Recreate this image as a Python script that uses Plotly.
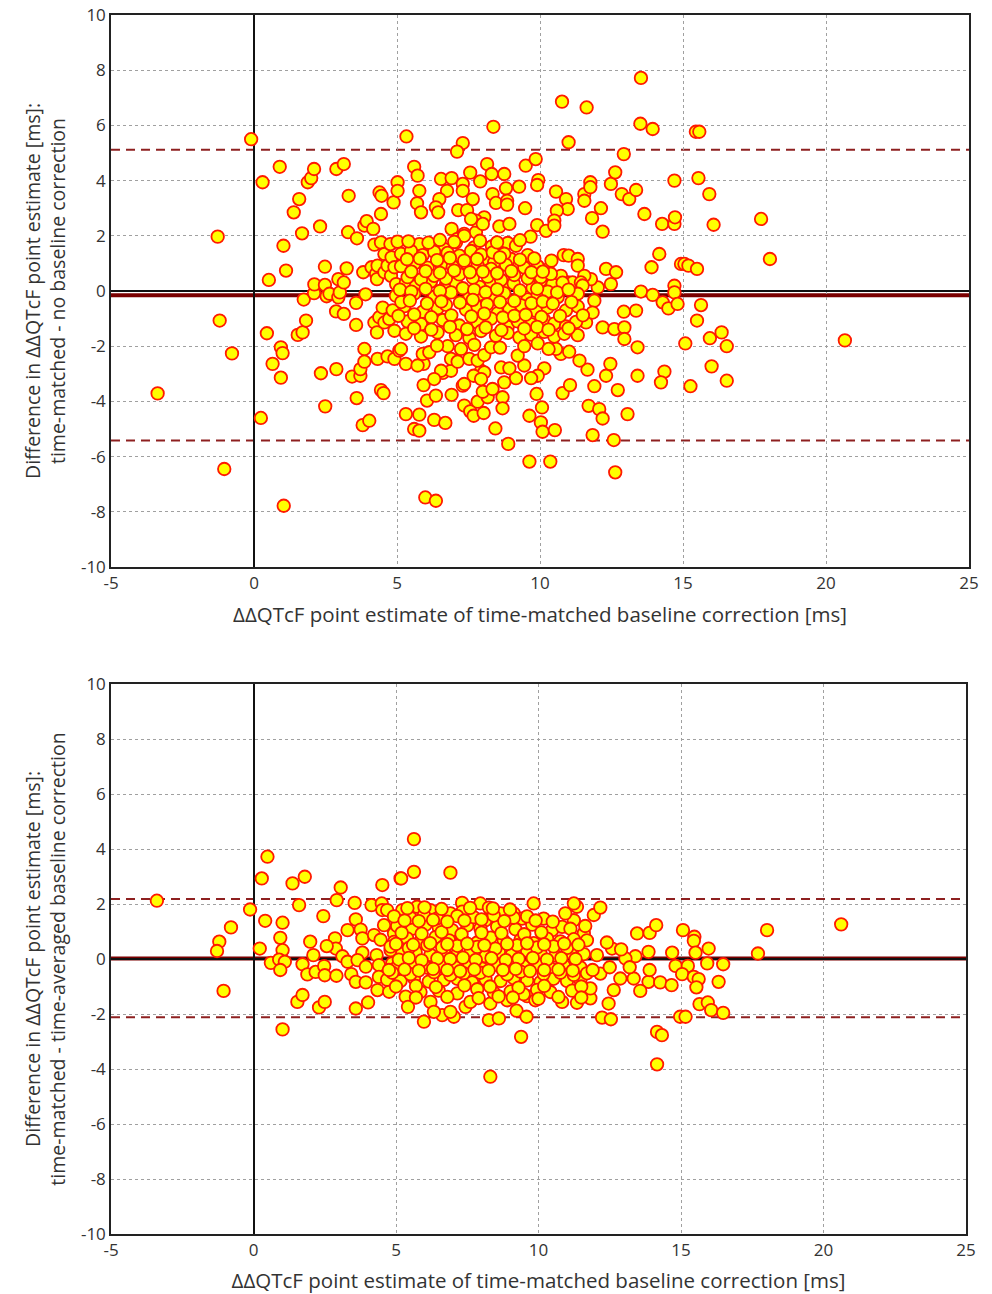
import plotly.graph_objects as go

# ---------------- data (x = ΔΔQTcF time-matched, y = difference) ----------------
top_left = [(-3.37,-3.71),(-1.27,1.97),(-1.2,-1.07),(-1.04,-6.45),(-0.77,-2.26),(-0.1,5.5),(0.24,-4.6),
    (0.3,3.94),(0.45,-1.53),(0.52,0.4),(0.65,-2.64),(0.9,4.5),(0.94,-2.04),(1.0,-2.25),(0.94,-3.14),
    (1.03,1.64),(1.04,-7.78),(1.12,0.74),(1.39,2.85),(1.53,-1.59),(1.58,3.33),(1.68,2.09),(1.7,-1.5),
    (1.74,-0.31),(1.82,-1.07),(1.88,3.94),(2.0,4.09),(2.1,4.42),(2.1,-0.08),(2.11,0.24),(2.31,2.34),
    (2.34,-2.98),(2.48,0.88),(2.48,0.22),(2.49,-4.18),(2.54,-0.19),(2.64,-0.1),(2.87,-0.74),(2.88,4.42),
    (2.88,-2.83),(2.95,0.43),(2.95,-0.23),(3.0,-0.05),(3.14,4.6),(3.14,0.31),(3.14,-0.83),(3.24,0.82),
    (3.29,2.13),(3.31,3.45),(3.43,-3.1),(3.57,-0.43),(3.57,-1.23),(3.59,-3.88),(3.6,1.91),(3.72,-3.07),
    (3.72,-2.83),(3.8,-4.86),(3.82,0.68),(3.86,2.37),(3.86,-2.56),(3.86,-2.1),(3.9,-0.12),(3.94,2.53),
    (4.03,-4.7),(4.11,0.86),(4.17,2.25),(4.21,1.68),(4.21,-1.14),(4.27,0.62),(4.3,0.43),(4.3,-1.5),
    (4.32,0.92),(4.32,-2.46),(4.38,-0.95),(4.39,3.57),(4.44,2.79),(4.44,-3.59),(4.44,1.76),(4.46,3.45),
    (4.53,-3.7),(4.56,1.34),(4.56,0.68),(4.56,-1.14),(4.67,0.92),(4.67,-2.37),(4.73,-1.01),(4.77,1.7),
    (4.79,0.55),(4.81,1.22),(4.88,3.21),(4.91,0.86),(4.91,-1.44),(4.91,-2.46),(4.97,0.25),(5.02,3.94),
    (5.02,3.63),(5.02,1.79),(5.08,-2.16)]

top_upper = [(5.33,5.6),(5.6,4.5),(5.72,4.18),(5.78,3.63),(5.7,3.18),(5.84,2.85),(6.54,4.06),(6.91,4.09),
    (6.75,3.63),(7.3,3.88),(7.3,3.63),(7.56,4.29),(7.91,3.97),(8.15,4.6),(8.31,4.24),(8.75,4.24),(9.5,4.54),
    (9.85,4.78),(9.94,4.02),(9.9,3.84),(9.27,3.78),(8.81,3.72),(6.48,3.33),(6.36,3.03),(6.44,2.85),
    (7.14,2.93),(7.45,2.93),(7.65,3.33),(8.34,3.51),(8.46,3.19),(8.85,3.27),(8.85,3.13),(9.48,3.0),
    (10.56,3.6),(10.91,3.33),(10.97,2.97),(10.59,2.91),(10.5,2.55),(11.55,3.51),(11.55,3.27),(11.76,3.94),
    (11.76,3.76),(12.13,3.0),(11.82,2.64),(12.19,2.15),(12.48,3.88),(12.63,4.3),(12.86,3.51),(13.12,3.33),
    (13.36,3.66),(13.65,2.79),(14.27,2.43),(14.7,2.43),(14.7,4.0),(6.91,2.25),(7.1,1.88),(7.35,2.07),
    (7.76,2.13),(8.05,2.67),(7.76,2.55),(8.0,2.43),(7.59,2.61),(8.58,2.34),(8.93,2.43),(9.67,1.97),
    (9.9,2.39),(10.21,2.18),(10.5,2.37),(8.32,1.62),(8.87,1.74),(9.16,1.64),(8.99,1.16),(9.28,0.92),
    (5.78,1.7),(6.25,1.58),(6.66,1.52),(7.06,1.76),(7.35,2.0),(7.7,1.58),(8.05,1.16),(8.4,1.04),
    (10.83,1.3),(11.0,1.28),(11.32,1.16),(11.32,0.92),(14.17,1.34),(13.9,0.86),(14.93,0.98),(12.31,0.8),
    (12.66,0.68),(12.48,0.25),(12.02,0.13),(11.78,0.43),(11.55,0.55),(10.97,0.31),(10.73,0.55),
    (11.14,0.31),(11.43,0.31),(13.53,-0.02),(13.94,-0.14),(14.7,0.19),(14.7,-0.05)]

top_high = [(13.53,7.72),(10.77,6.86),(11.63,6.65),(8.37,5.95),(13.51,6.06),(13.94,5.87),(7.3,5.36),
    (7.1,5.05),(11.0,5.39),(12.93,4.96),(15.45,5.77),(15.57,5.77),(15.54,4.09),(15.92,3.51),(14.72,2.67),
    (16.07,2.4),(17.73,2.61),(18.04,1.16),(15.05,0.98),(15.19,0.92),(15.49,0.8)]

top_right_low = [(14.29,-0.41),(14.49,-0.63),(14.81,-0.47),(15.63,-0.51),(15.49,-1.07),(15.08,-1.9),
    (15.94,-1.71),(16.35,-1.5),(16.53,-2.0),(20.66,-1.79),(14.35,-2.92),(14.23,-3.31),(16.0,-2.73),
    (15.26,-3.45),(16.53,-3.25)]

top_lower = [(5.99,-7.48),(6.36,-7.6),(9.63,-6.18),(10.36,-6.18),(12.63,-6.57),(8.89,-5.54),(11.84,-5.22),
    (12.58,-5.4),(5.6,-5.0),(5.78,-5.06),(5.31,-4.46),(5.78,-4.48),(6.3,-4.67),(6.69,-4.78),(8.44,-4.98),
    (9.63,-4.52),(10.03,-4.76),(10.09,-5.1),(10.52,-5.04),(10.07,-4.22),(11.7,-4.16),(12.07,-4.28),
    (12.19,-4.62),(13.06,-4.46),(6.05,-3.97),(6.36,-3.79),(6.91,-3.76),(7.35,-4.15),(7.56,-4.36),
    (7.68,-4.52),(8.03,-4.42),(7.82,-4.01),(8.17,-3.85),(8.69,-3.85),(8.69,-4.25),(9.88,-3.73),(5.93,-3.41),
    (6.6,-2.97),(7.3,-3.43),(8.0,-3.65),(8.34,-3.55),(10.79,-3.7),(11.05,-3.41),(11.9,-3.45),(12.72,-3.59),
    (13.41,-3.07),(12.31,-3.07),(12.46,-2.64),(11.66,-2.85),(11.38,-2.52),(10.73,-2.28),(11.02,-2.2),
    (10.56,-2.1),(10.15,-2.8),(9.92,-3.07),(9.69,-3.16),(9.45,-2.7),(9.22,-2.34),(9.16,-3.16),(8.75,-3.31),
    (8.64,-2.77),(8.93,-2.8),(7.94,-2.89),(8.05,-2.95),(7.68,-3.07),(7.94,-3.19),(7.35,-3.37),(7.06,-2.52),
    (6.89,-2.89),(6.54,-2.89),(6.3,-3.19),(5.93,-2.64),(5.14,-2.1),(5.31,-2.64),(5.72,-2.7),(5.9,-2.28),
    (6.13,-2.22),(6.89,-2.46),(7.12,-2.56),(7.53,-2.46),(7.82,-2.52),(8.05,-2.32),(8.29,-2.04),(11.61,-1.14),
    (12.19,-1.32),(12.6,-1.38),(12.95,-1.32),(12.95,-1.74),(13.41,-2.04),(13.36,-0.71),(12.93,-0.75)]

top_dense = [(5.31,0.3),(5.66,0.18),(6.19,0.35),(6.71,0.22),(7.06,0.28),(7.88,0.15),(8.29,0.33),(8.7,0.2),
    (9.08,0.27),(9.74,0.12),(10.03,0.38),(10.44,0.24),(10.79,0.3),(11.49,0.2),
    (4.96,-0.17),(5.6,-0.1),(6.3,-0.22),(6.89,-0.05),(7.53,-0.25),(7.88,-0.12),(8.4,-0.2),(8.75,-0.08),
    (9.57,-0.3),(9.92,-0.15),(10.27,-0.02),(10.62,-0.22),(11.32,-0.1),(11.9,-0.35),
    (4.5,-0.6),(4.85,-0.7),(5.26,-0.55),(5.9,-0.75),(6.42,-0.62),(6.71,-0.5),(7.41,-0.68),(7.82,-0.58),
    (8.52,-0.8),(8.93,-0.65),(9.34,-0.52),(9.86,-0.72),(10.27,-0.6),(10.91,-0.7),(11.32,-0.56),(11.84,-0.78),
    (5.37,-1.1),(5.84,-1.2),(6.6,-1.05),(7.18,-1.25),(7.82,-1.15),(8.29,-1.0),(8.87,-1.3),(9.22,-1.1),
    (9.69,-1.2),(10.15,-1.05),(10.5,-1.18),(10.91,-1.28),(11.26,-1.12),
    (5.31,-1.55),(5.84,-1.65),(6.42,-1.5),(7.06,-1.6),(7.53,-1.7),(7.94,-1.45),(8.46,-1.62),(8.87,-1.52),
    (9.28,-1.68),(9.69,-1.58),(10.15,-1.48),(10.5,-1.65),(10.85,-1.55),(11.32,-1.6),
    (6.77,-2.0),(7.24,-2.1),(7.7,-1.95),(8.6,-2.05),(9.45,-2.0),(9.92,-1.9),(10.3,-2.1),(6.4,-1.98),
    (5.14,1.35),(5.49,1.45),(5.9,1.3),(6.3,1.42),(6.77,1.38),(7.18,1.28),(7.59,1.45),(7.94,1.32),
    (8.35,1.4),(8.75,1.35),(9.57,1.3),
    (5.14,0.9),(5.61,1.0),(6.07,0.85),(6.54,0.95),(6.95,0.88),(7.41,1.02),(7.82,0.92),(8.29,0.8),
    (8.81,0.95),(9.45,0.85),(9.92,0.9),(10.27,0.78),
    (5.37,0.5),(5.84,0.42),(6.3,0.55),(6.71,0.45),(7.18,0.6),(7.65,0.48),(8.17,0.52),(8.64,0.4),
    (9.1,0.58),(9.57,0.46),(10.03,0.5),(10.38,0.62)]

top_dense_2 = [(5.1,0.05),(5.5,-0.02),(6.0,0.08),(6.5,0.0),(7.3,0.1),(7.7,0.04),(8.1,-0.04),(8.5,0.06),
    (9.3,0.02),(9.9,0.08),(10.6,-0.05),(11.0,0.05),
    (5.15,-0.4),(5.45,-0.35),(6.05,-0.45),(6.55,-0.38),(7.2,-0.42),(7.65,-0.32),(8.15,-0.48),(8.6,-0.4),
    (9.1,-0.36),(9.7,-0.44),(10.1,-0.38),(10.45,-0.46),(11.1,-0.4),
    (5.05,-0.9),(5.6,-0.85),(6.2,-0.95),(6.9,-0.88),(7.6,-0.92),(8.05,-0.82),(8.7,-0.96),(9.1,-0.9),
    (9.5,-0.86),(10.05,-0.94),(10.7,-0.9),(11.5,-0.88),
    (5.6,-1.35),(6.2,-1.4),(6.85,-1.3),(7.45,-1.38),(8.1,-1.32),(8.65,-1.42),(9.45,-1.36),(9.9,-1.3),
    (10.3,-1.4),(11.0,-1.35),
    (5.5,0.7),(6.0,0.72),(6.5,0.66),(7.0,0.74),(7.55,0.68),(8.0,0.7),(8.5,0.64),(9.0,0.72),(9.7,0.68),
    (10.1,0.7),
    (5.35,1.15),(5.8,1.18),(6.4,1.12),(6.85,1.2),(7.35,1.1),(7.8,1.16),(8.6,1.22),(9.3,1.14),(9.8,1.18),
    (10.4,1.1),
    (5.4,1.8),(6.1,1.75),(6.5,1.85),(7.0,1.78),(7.9,1.82),(8.5,1.76),(9.3,1.84)]

bot_left = [(0.49,3.72),(0.29,2.93),(1.37,2.75),(1.8,2.99),(3.06,2.6),(4.52,2.69),(-3.39,2.12),(-0.12,1.8),
    (1.6,1.96),(2.92,2.14),(3.55,2.04),(4.14,1.96),(4.5,2.02),(4.52,1.78),(-0.79,1.15),(0.41,1.39),
    (1.02,1.32),(2.45,1.56),(3.59,1.44),(-1.2,0.63),(-1.28,0.29),(0.94,0.77),(1.02,0.32),(0.22,0.38),
    (1.99,0.63),(2.86,0.75),(2.89,0.38),(2.57,0.47),(3.3,1.05),(3.76,1.07),(3.82,0.75),(4.23,0.87),
    (4.58,1.23),(4.93,0.93),(3.82,0.23),(4.32,0.14),(4.81,0.32),(4.87,-0.16),(0.61,-0.14),(0.9,-0.02),
    (1.1,-0.1),(0.94,-0.4),(1.72,-0.19),(1.89,-0.56),(2.1,0.14),(2.18,-0.47),(2.48,-0.26),(2.5,-0.59),
    (2.91,-0.61),(3.12,0.1),(3.3,-0.1),(3.43,-0.55),(3.65,-0.04),(3.94,-0.28),(3.59,-0.83),(3.94,-0.85),
    (4.4,-0.22),(4.4,-0.65),(4.35,-1.13),(4.76,-1.19),(5.05,-0.89),(-1.05,-1.16),(1.54,-1.56),(1.72,-1.31),
    (2.3,-1.76),(2.5,-1.56),(3.59,-1.8),(4.02,-1.58),(1.02,-2.56),(5.16,2.93)]

bot_mid = [(5.63,4.36),(5.63,3.17),(5.18,2.93),(6.91,3.14),(8.31,-4.28),(9.39,-2.83),(14.16,-2.65),
    (14.33,-2.77),(14.16,-3.83),(5.98,-2.28),(6.62,-2.04),(7.03,-2.1),(6.91,-1.92),(8.26,-2.22),(8.61,-2.16),
    (9.23,-1.88),(9.58,-2.1),(12.23,-2.13),(12.54,-2.19),(14.97,-2.1),(5.34,-1.37),(5.42,-1.74),(6.21,-1.56),
    (6.33,-1.92),(7.44,-1.74),(7.61,-1.56),(8.31,-1.62),(8.9,-1.5),(9.6,-1.35),(9.89,-1.5),(10.83,-1.56),
    (11.35,-1.59),(11.82,-1.43),(12.46,-1.62),(13.46,0.93),(13.9,0.95),(14.13,1.23),(13.86,0.26),
    (13.4,0.1),(13.05,0.02),(12.58,0.38),(12.05,0.14),(13.34,-0.71),(13.86,-0.83),(14.27,-0.85),
    (13.57,-1.16),(12.87,-0.71),(12.64,-1.13),(12.17,-0.53),(11.82,-1.07),(11.24,1.41),(11.59,0.93),
    (11.94,1.6),(12.17,1.87),(11.35,1.9),(10.94,1.66),(9.83,2.02),(10.18,1.47),(10.48,1.05),(10.83,1.17),
    (11.24,2.02),(7.32,2.04),(7.96,2.02),(8.26,1.87),(8.67,1.66),(9.13,1.66),(9.42,1.47),(4.69,1.78),
    (5.22,1.78),(5.74,1.9),(6.21,1.78),(6.91,1.66),(7.32,1.72),(8.14,1.41),
    (12.4,0.6),(12.9,0.35),(13.2,-0.3),(12.5,-0.3),(13.9,-0.4)]

bot_dense = [(5.04,1.2),(5.57,1.1),(6.04,1.25),(6.5,1.15),(6.97,1.05),(7.5,1.22),(7.96,1.12),(8.55,1.18),
    (9.19,1.08),(9.78,1.25),(11.12,1.1),(11.64,1.2),
    (4.46,0.7),(4.93,0.62),(5.39,0.75),(5.86,0.65),(6.39,0.8),(6.86,0.68),(7.32,0.72),(7.85,0.6),
    (8.32,0.78),(8.78,0.66),(9.37,0.7),(9.83,0.58),(10.3,0.74),(10.77,0.64),(11.24,0.72),(11.7,0.68),
    (5.22,0.2),(5.69,0.25),(6.21,0.15),(6.68,0.28),(7.15,0.18),(7.61,0.22),(8.14,0.1),(8.61,0.26),
    (9.07,0.16),(9.6,0.3),(10.07,0.2),(10.59,0.12),(11.12,0.24),(11.59,0.18),
    (5.04,-0.28),(5.57,-0.2),(6.1,-0.32),(6.56,-0.25),(7.09,-0.3),(7.56,-0.18),(8.02,-0.35),(8.55,-0.22),
    (9.02,-0.3),(9.48,-0.26),(9.95,-0.2),(10.42,-0.34),(10.89,-0.24),(11.47,-0.3),
    (4.69,-0.75),(5.16,-0.8),(5.63,-0.7),(6.15,-0.82),(6.68,-0.76),(7.15,-0.72),(7.67,-0.85),(8.14,-0.74),
    (8.67,-0.8),(9.13,-0.7),(9.6,-0.78),(10.07,-0.84),(10.53,-0.72),(11.0,-0.8),(11.47,-0.76),
    (5.86,-1.2),(6.5,-1.15),(7.15,-1.25),(7.85,-1.1),(8.43,-1.22),(9.02,-1.18),(9.48,-1.28),(9.95,-1.12),
    (10.42,-1.2),(11.18,-1.15),
    (4.93,1.55),(5.51,1.5),(5.98,1.6),(6.45,1.48),(7.15,1.56),(7.73,1.52),(8.43,1.58),(9.13,1.5),(9.6,1.55),
    (4.81,0.45),(5.45,0.4),(6.1,0.5),(6.62,0.42),(7.15,0.48),(7.85,0.44),(8.49,0.38),(9.25,0.5),(9.95,0.42),
    (10.53,0.46),(11.0,0.4),
    (4.87,-0.5),(5.51,-0.55),(6.33,-0.48),(6.91,-0.58),(7.38,-0.52),(7.96,-0.5),(8.9,-0.56),(9.37,-0.46),
    (10.18,-0.54),(10.77,-0.5),(11.24,-0.58),(11.7,-0.52),
    (5.2,0.95),(5.9,0.92),(6.6,0.98),(7.3,0.9),(8.0,0.96),(8.7,0.94),(9.5,0.9),(10.1,0.97),
    (5.0,-1.0),(5.7,-0.98),(6.4,-1.02),(7.4,-0.96),(8.3,-1.0),(9.3,-1.04),(10.2,-0.98),(11.5,-1.0)]

bot_dense_2 = [(5.1,-0.02),(5.45,0.04),(5.9,-0.05),(6.45,0.02),(6.9,0.0),(7.35,0.05),(7.8,-0.03),(8.35,0.03),
    (8.85,-0.04),(9.3,0.01),(9.8,0.04),(10.3,-0.02),(10.8,0.03),(11.3,0.0),
    (4.75,-0.4),(5.3,-0.38),(5.8,-0.42),(6.3,-0.36),(6.8,-0.4),(7.25,-0.44),(7.75,-0.38),(8.25,-0.42),
    (8.75,-0.4),(9.2,-0.36),(9.7,-0.44),(10.2,-0.4),(10.7,-0.38),(11.2,-0.42),(11.9,-0.4),
    (5.7,-1.4),(6.8,-1.38),(7.9,-1.42),(8.6,-1.36),(9.1,-1.4),(10.0,-1.44),(10.7,-1.38),(11.5,-1.4),
    (5.3,1.4),(5.8,1.38),(6.3,1.42),(6.8,1.36),(7.4,1.4),(8.0,1.44),(8.8,1.38),(9.9,1.4),(10.5,1.36),
    (5.4,1.85),(6.0,1.88),(6.6,1.82),(7.6,1.86),(8.4,1.84),(9.0,1.8),
    (5.0,0.55),(5.6,0.52),(6.2,0.58),(6.8,0.54),(7.5,0.56),(8.1,0.5),(8.9,0.55),(9.6,0.57),(10.2,0.53),
    (10.9,0.56),(11.4,0.52)]

bot_right = [(20.62,1.26),(18.02,1.05),(17.7,0.2),(15.07,1.05),(15.47,0.81),(15.45,0.66),(15.97,0.38),
    (14.69,0.23),(15.51,0.23),(15.92,-0.16),(16.48,-0.19),(14.81,-0.25),(15.24,-0.25),(15.04,-0.55),
    (15.45,-0.65),(15.62,-0.73),(15.54,-1.03),(14.67,-0.95),(16.32,-0.83),(15.65,-1.64),(15.94,-1.58),
    (16.06,-1.86),(16.48,-1.96),(15.16,-2.1)]

# Bland-Altman summary lines (mean difference and limits of agreement)
top_mean, top_loa = -0.15, (5.12, -5.42)
bot_mean, bot_loa = 0.02, (2.18, -2.12)

x_ticks = [-5, 0, 5, 10, 15, 20, 25]
x_tick_text = ["-5", "0", "5", "10", "15", "20", "25"]
y_ticks = [-10, -8, -6, -4, -2, 0, 2, 4, 6, 8, 10]
y_tick_text = ["-10", "-8", "-6", "-4", "-2", "0", "2", "4", "6", "8", "10"]

x_title = "ΔΔQTcF point estimate of time-matched baseline correction [ms]"
y_title_top = "Difference in ΔΔQTcF point estimate [ms]:<br>time-matched - no baseline correction"
y_title_bot = "Difference in ΔΔQTcF point estimate [ms]:<br>time-matched - time-averaged baseline correction"

# ---------------- figure ----------------
top_pts = top_left + top_upper + top_high + top_right_low + top_lower + top_dense + top_dense_2
bot_pts = bot_left + bot_mid + bot_dense + bot_dense_2 + bot_right

marker = dict(size=12.5, color="#FFFF00", line=dict(color="#FF1A00", width=1.8))

fig = go.Figure()
fig.add_trace(go.Scatter(x=[p[0] for p in top_pts], y=[p[1] for p in top_pts], mode="markers",
                         marker=marker, xaxis="x", yaxis="y", showlegend=False))
fig.add_trace(go.Scatter(x=[p[0] for p in bot_pts], y=[p[1] for p in bot_pts], mode="markers",
                         marker=marker, xaxis="x2", yaxis="y2", showlegend=False))

mean_color = "#7A0000"
loa_color = "#8E2020"
for xr, yr, m, loa in (("x domain", "y", top_mean, top_loa), ("x2 domain", "y2", bot_mean, bot_loa)):
    fig.add_shape(type="line", xref=xr, yref=yr, x0=0, x1=1, y0=m, y1=m,
                  line=dict(color=mean_color, width=4), layer="below")
    for v in loa:
        fig.add_shape(type="line", xref=xr, yref=yr, x0=0, x1=1, y0=v, y1=v,
                      line=dict(color=loa_color, width=2, dash="9px,6px"), layer="below")

font_family = "Open Sans, DejaVu Sans, sans-serif"
axis_common = dict(showline=True, linecolor="#222", linewidth=1.5, mirror=True,
                   showgrid=True, gridcolor="#A0A0A0", gridwidth=1, griddash="dot",
                   zeroline=True, zerolinecolor="#111", zerolinewidth=1.6, automargin=False,
                   ticks="", tickfont=dict(size=17, color="#333", family=font_family))

H = 1294 - 15 - 60
fig.update_layout(
    width=992, height=1294,
    margin=dict(l=111, r=23, t=15, b=60),
    paper_bgcolor="white", plot_bgcolor="white",
    font=dict(family=font_family, color="#333"),
    xaxis=dict(axis_common, range=[-5, 25], tickvals=x_ticks, ticktext=x_tick_text, domain=[0, 1], anchor="y",
               title=dict(text=x_title, font=dict(size=20.5, color="#333"), standoff=14)),
    yaxis=dict(axis_common, range=[-10, 10], tickvals=y_ticks, ticktext=y_tick_text,
               domain=[1 - 552 / H, 1], anchor="x",
               title=dict(text=y_title_top, font=dict(size=19.5, color="#333"), standoff=10)),
    xaxis2=dict(axis_common, range=[-5, 25], tickvals=x_ticks, ticktext=x_tick_text, domain=[0, 0.9965],
                anchor="y2", title=dict(text=x_title, font=dict(size=20.5, color="#333"), standoff=14)),
    yaxis2=dict(axis_common, range=[-10, 10], tickvals=y_ticks, ticktext=y_tick_text,
                domain=[0, 550 / H], anchor="x2",
                title=dict(text=y_title_bot, font=dict(size=19.5, color="#333"), standoff=10)),
)

fig.write_html("out.html")
